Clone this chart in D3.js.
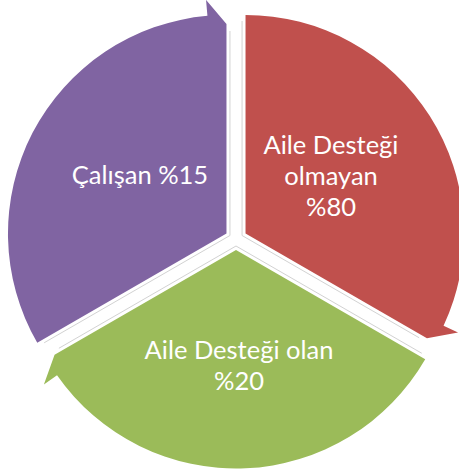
<!DOCTYPE html>
<html>
<head>
<meta charset="utf-8">
<script src="https://cdn.jsdelivr.net/npm/d3@7"></script>
<style>
  html, body { margin: 0; padding: 0; background: #fff; }
  svg { display: block; }
</style>
</head>
<body>
<svg id="chart" width="459" height="475"></svg>
<script>
// data, in clockwise order starting at 12 o'clock
var categories = ["Aile Desteği olmayan", "Aile Desteği olan", "Çalışan"];
var percents = [80, 20, 15];
var labelLines = [
    ["Aile Desteği", "olmayan", "%80"],
    ["Aile Desteği olan", "%20"],
    ["Çalışan %15"]
];
var colors = ["#c0504d", "#9bbb59", "#8064a2"];

var width = 459, height = 475,
    cx = 236, cy = 239,
    r = 218.5,        // radius of each segment
    explode = 11,     // how far each segment is pushed out of the middle
    barbOut = 16, barbIn = 9,
    barbAngle = 5 * Math.PI / 180;

var svg = d3.select("#chart");

// segmented cycle: the three parts are the same size, whatever the percent
var pie = d3.pie().sort(null).value(() => 1);
var slices = pie(categories);

var pt = (a, rho) => [rho * Math.sin(a), -rho * Math.cos(a)];
var shift = (s, k) => pt((s.startAngle + s.endAngle) / 2, k);

var segmentPath = function (s) {
    let p = d3.path(),
        a0 = s.startAngle, a1 = s.endAngle;
    p.moveTo(0, 0);
    p.lineTo(...pt(a0, r));
    p.arc(0, 0, r, a0 - Math.PI / 2, a1 - barbAngle - Math.PI / 2, false);
    p.lineTo(...pt(a1 - barbAngle, r + barbOut));
    p.lineTo(...pt(a1, r - barbIn));
    p.closePath();
    return p.toString();
};

var g = svg.append("g").attr("transform", "translate(" + cx + "," + cy + ")");

// faint bevel lines in the white gaps
g.selectAll("path.edge")
    .data(slices)
    .enter().append("path")
    .attr("class", "edge")
    .attr("transform", d => "translate(" + shift(d, 7) + ")")
    .attr("d", d => d3.line()([pt(d.startAngle, r - 4), [0, 0], pt(d.endAngle, r - 14)]))
    .attr("fill", "none")
    .attr("stroke", "#d2d2d2")
    .attr("stroke-width", 1);

g.selectAll("path.seg")
    .data(slices)
    .enter().append("path")
    .attr("class", "seg")
    .attr("transform", d => "translate(" + shift(d, explode) + ")")
    .attr("d", segmentPath)
    .attr("fill", (d, i) => colors[i]);

// labels
var labelPos = [[331, 154], [239, 359], [140, 184]];
var lineH = 31;

labelLines.forEach(function (lines, i) {
    let t = svg.append("text")
        .attr("x", labelPos[i][0])
        .attr("y", labelPos[i][1])
        .attr("text-anchor", "middle")
        .attr("fill", "#fff")
        .style("font-family", "Lato, 'Open Sans', sans-serif")
        .style("font-size", "25.5px");
    lines.forEach((l, j) => t.append("tspan")
        .attr("x", labelPos[i][0])
        .attr("dy", j === 0 ? 0 : lineH)
        .text(l));
});
</script>
</body>
</html>
